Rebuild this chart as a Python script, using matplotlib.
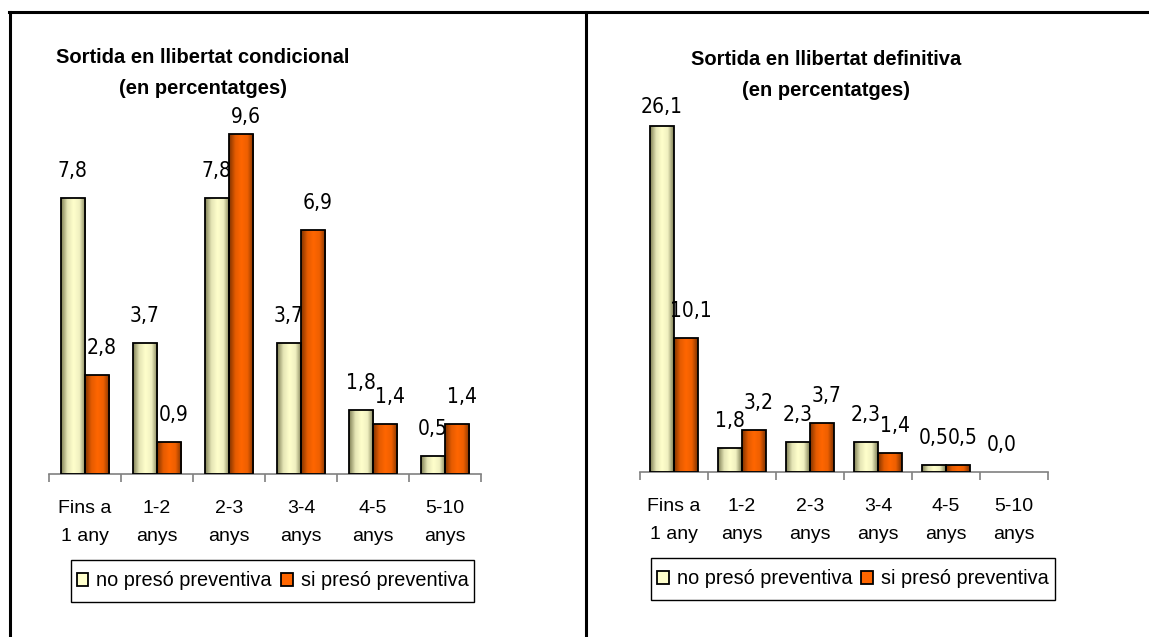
import numpy as np
import matplotlib.pyplot as plt
from matplotlib.colors import LinearSegmentedColormap
from matplotlib.patches import Rectangle
from matplotlib.transforms import offset_copy

# Data
categories = ["Fins a\n1 any", "1-2\nanys", "2-3\nanys", "3-4\nanys", "4-5\nanys", "5-10\nanys"]
cond_no = [7.8, 3.7, 7.8, 3.7, 1.8, 0.5]
cond_si = [2.8, 0.9, 9.6, 6.9, 1.4, 1.4]
def_no = [26.1, 1.8, 2.3, 2.3, 0.5, 0.0]
def_si = [10.1, 3.2, 3.7, 1.4, 0.5, 0.0]
series_names = ["no presó preventiva", "si presó preventiva"]

light = "#FFFFCC"
orange = "#FF6600"
light_cmap = LinearSegmentedColormap.from_list("l", ["#7f7f55", "#e4e4b4", "#FFFFCC", "#f0f0c0", "#7f7f55"])
orange_cmap = LinearSegmentedColormap.from_list("o", ["#7f3300", "#e45b00", "#FF6600", "#ee5f00", "#7f3300"])

plt.rcParams['font.family'] = ["Liberation Sans", "DejaVu Sans"]

fig = plt.figure(figsize=(11.49, 6.37), dpi=100)
W, H = 1149, 637


def px_axes(x0, x1, ytop, ybase):
    return fig.add_axes([x0 / W, (H - ybase) / H, (x1 - x0) / W, (ybase - ytop) / H])


def shade(ax, bars, cmap):
    grad = np.linspace(0, 1, 64).reshape(1, -1)
    for b in bars:
        if b.get_height() <= 0:
            b.set_linewidth(0)
            continue
        x, y = b.get_x(), b.get_y()
        w, h = b.get_width(), b.get_height()
        im = ax.imshow(grad, cmap=cmap, aspect='auto', extent=[x, x + w, y, y + h],
                       zorder=2, interpolation='bilinear')
        im.set_clip_path(b)


def draw(ax, no, si, ppu, title, title_xy, bw, legbox):
    x = np.arange(len(categories))
    bbox = ax.get_position()
    height_px = bbox.height * H
    ymax = height_px / ppu
    b1 = ax.bar(x - bw, no, bw, align='edge', facecolor='none', edgecolor='black', linewidth=1.3, zorder=3)
    b2 = ax.bar(x, si, bw, align='edge', facecolor='none', edgecolor='black', linewidth=1.3, zorder=3)
    shade(ax, b1, light_cmap)
    shade(ax, b2, orange_cmap)
    ax.set_xlim(-0.5, len(categories) - 0.5)
    ax.set_ylim(0, ymax)
    ax.set_yticks([])
    for s in ['left', 'right', 'top']:
        ax.spines[s].set_visible(False)
    ax.spines['bottom'].set_color('#808080')
    ax.spines['bottom'].set_linewidth(1.2)
    ax.set_xticks(x)
    ax.set_xticklabels(categories, fontsize=14, linespacing=1.82)
    ax.tick_params(axis='x', which='major', length=0, pad=19)
    ax.set_xticks(np.arange(-0.5, len(categories)), minor=True)
    ax.tick_params(axis='x', which='minor', length=6, color='#808080', width=1.2)
    off = 21 / ppu
    for k, (bars, vals) in enumerate(((b1, no), (b2, si))):
        tr = offset_copy(ax.transData, fig=fig, x=3.5 * k, y=0, units='points')
        for b, v in zip(bars, vals):
            if v == 0 and k == 1:
                continue
            ax.text(b.get_x() + b.get_width() / 2, min(v + off, ymax),
                    f"{v:.1f}".replace('.', ','), ha='center', va='baseline', transform=tr,
                    fontsize=15, family='DejaVu Sans', fontstretch='condensed', clip_on=False)
    fig.text(title_xy[0] / W, 1 - title_xy[1] / H, title, ha='center', va='center',
             fontsize=14.5, fontweight='bold', linespacing=1.75)
    # legend frame and entries
    lx0, lx1, ly0, ly1 = legbox
    fig.add_artist(Rectangle((lx0 / W, 1 - ly1 / H), (lx1 - lx0) / W, (ly1 - ly0) / H,
                             transform=fig.transFigure, facecolor='white', edgecolor='black', lw=1.0))
    leg = fig.legend([b1, b2], series_names, loc='center',
                     bbox_to_anchor=((lx0 + lx1) / 2 / W, 1 - (ly0 + ly1) / 2 / H),
                     ncol=2, frameon=False, fontsize=14.3, handlelength=0.6,
                     handleheight=0.6, handletextpad=0.4, columnspacing=0.45, borderpad=0.2)
    for p, c in zip(leg.get_patches(), [light, orange]):
        p.set_facecolor(c)
        p.set_edgecolor('black')
        p.set_linewidth(1.3)


ax1 = px_axes(49, 481, 123, 474)
draw(ax1, cond_no, cond_si, 35.4, "Sortida en llibertat condicional\n(en percentatges)",
     (203, 73), 0.34, (71, 474, 560, 602))

ax2 = px_axes(640, 1048, 113, 472)
draw(ax2, def_no, def_si, 13.26, "Sortida en llibertat definitiva\n(en percentatges)",
     (826, 75), 0.35, (651, 1055, 558, 600))

# outer frame lines
fig.add_artist(plt.Line2D([9 / W, 1], [1 - 12 / H] * 2, color='black', lw=2.2))
fig.add_artist(plt.Line2D([10 / W] * 2, [0, 1 - 12 / H], color='black', lw=2.2))
fig.add_artist(plt.Line2D([586 / W] * 2, [0, 1 - 12 / H], color='black', lw=2.2))

fig.savefig("out.png", dpi=100)
